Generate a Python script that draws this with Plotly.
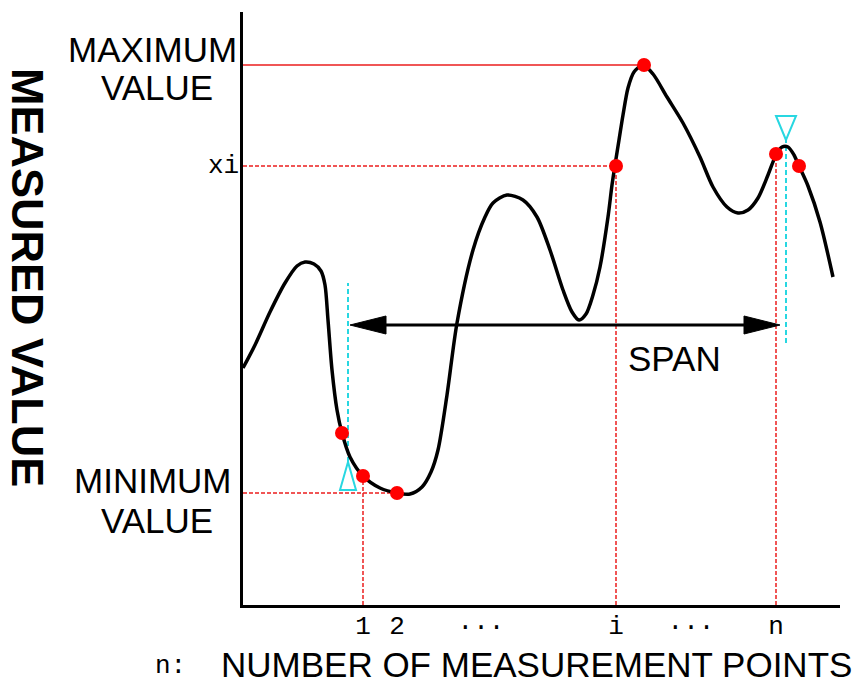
import plotly.graph_objects as go

# ---- data ----
curve_x = [0, 12, 27, 42, 54, 62, 71, 78, 82, 85, 89, 94, 99, 107, 120, 137, 154, 167, 179, 188,
           195, 204, 214, 230, 242, 250, 264, 280, 294, 307, 320, 329, 336, 343, 350, 357, 365,
           369, 372, 376, 380, 385, 391, 400, 410, 424, 440, 457, 470, 484, 495, 505, 515, 525,
           533, 539, 545, 551, 556, 565, 577, 590]
curve_y = [237, 260, 293, 322, 339, 343, 341, 334, 320, 285, 235, 195, 172, 148, 129, 117, 112, 111,
           118, 133, 155, 210, 282, 355, 388, 402, 410, 405, 388, 355, 315, 293, 285, 291, 310, 338,
           388, 420, 440, 465, 490, 517, 533, 540, 531, 508, 482, 448, 418, 398, 392, 395, 407, 430,
           450, 458, 458, 450, 439, 419, 383, 328]

point_x = [99, 120, 154, 373, 401, 533, 556]
point_y = [172, 129, 112, 439, 540, 451, 439]

max_value = 540
xi_value = 439
min_value = 112
x_max = 401
x_1 = 120
x_2 = 154
x_i = 373
x_n = 533
y_at_1 = 129
y_at_n = 451

span_start = 107
span_end = 537
span_level = 280
cyan_left = [105, 143, 322]    # x, bottom, top
cyan_right = [543, 262, 465]   # x, bottom, top

tick_vals = [120, 154, 238, 373, 448, 533]
tick_text = ["1", "2", "···", "i", "···", "n"]

X_RANGE = [0, 597]
Y_RANGE = [0, 593]

RED = "rgb(235,30,30)"
CYAN = "rgb(40,215,225)"
SANS = "Liberation Sans, Arial, sans-serif"
MONO = "Liberation Mono, Courier New, monospace"

fig = go.Figure()

fig.add_trace(go.Scatter(x=curve_x, y=curve_y, mode="lines",
                         line=dict(color="black", width=3.5, shape="spline", smoothing=0.8),
                         hoverinfo="skip"))

shapes = []
def seg(x0, y0, x1, y1, color, width, dash="solid"):
    shapes.append(dict(type="line", xref="x", yref="y", x0=x0, y0=y0, x1=x1, y1=y1,
                       line=dict(color=color, width=width, dash=dash), layer="below"))

seg(0, max_value, x_max, max_value, RED, 1.3)
seg(0, xi_value, x_i, xi_value, RED, 1.5, "4px,2px")
seg(x_i, 0, x_i, xi_value, RED, 1.5, "4px,2px")
seg(0, min_value, x_2, min_value, RED, 1.5, "4px,2px")
seg(x_1, 0, x_1, y_at_1, RED, 1.5, "4px,2px")
seg(x_n, 0, x_n, y_at_n, RED, 1.5, "4px,2px")
seg(cyan_left[0], cyan_left[1], cyan_left[0], cyan_left[2], CYAN, 2, "5px,3px")
seg(cyan_right[0], cyan_right[1], cyan_right[0], cyan_right[2], CYAN, 2, "5px,3px")

# span arrow
head_len, head_half = 36, 9
shapes.append(dict(type="line", xref="x", yref="y", x0=span_start + head_len - 2, y0=span_level,
                   x1=span_end - head_len + 2, y1=span_level, line=dict(color="black", width=3)))
for tip, d in ((span_start, 1), (span_end, -1)):
    shapes.append(dict(type="path", xref="x", yref="y",
                       path=f"M{tip},{span_level} L{tip + d*head_len},{span_level + head_half} "
                            f"L{tip + d*head_len},{span_level - head_half} Z",
                       fillcolor="black", line=dict(color="black", width=1)))

# cyan triangles
tl_h, tl_w = 28, 8
shapes.append(dict(type="path", xref="x", yref="y",
                   path=f"M{cyan_left[0]},{cyan_left[1]} L{cyan_left[0]-tl_w},{cyan_left[1]-tl_h} "
                        f"L{cyan_left[0]+tl_w},{cyan_left[1]-tl_h} Z",
                   line=dict(color=CYAN, width=2)))
tr_h, tr_w = 24, 10
shapes.append(dict(type="path", xref="x", yref="y",
                   path=f"M{cyan_right[0]},{cyan_right[2]} L{cyan_right[0]-tr_w},{cyan_right[2]+tr_h} "
                        f"L{cyan_right[0]+tr_w},{cyan_right[2]+tr_h} Z",
                   line=dict(color=CYAN, width=2)))

fig.add_trace(go.Scatter(x=point_x, y=point_y, mode="markers",
                         marker=dict(color="red", size=14, line=dict(width=0)),
                         hoverinfo="skip"))

def label(x, y, text, size, font=SANS, xanchor="center", **kw):
    # positions given in axis units, converted to paper fractions so they may sit outside the axes
    return dict(x=x / X_RANGE[1], y=y / Y_RANGE[1], xref="paper", yref="paper", text=text,
                xanchor=xanchor, yanchor="middle",
                showarrow=False, font=dict(family=font, size=size, color="black"), **kw)

annotations = [
    label(-91, 555, "MAXIMUM", 35),
    label(-86, 517, "VALUE", 35),
    label(-2, xi_value, "xi", 26, MONO, xanchor="right"),
    label(-91, 125, "MINIMUM", 35),
    label(-86, 85, "VALUE", 35),
    label(-215, 328, "<b>MEASURED VALUE</b>", 45, textangle=90),
    label(431, 247, "SPAN", 35),
    label(-73, -61, "n:", 26, MONO),
    label(293, -59, "NUMBER OF MEASUREMENT POINTS", 35, height=36),
]

fig.update_layout(
    width=862, height=682,
    margin=dict(l=243, r=22, t=12, b=77),
    paper_bgcolor="white", plot_bgcolor="white",
    showlegend=False, hovermode=False,
    shapes=shapes, annotations=annotations,
    xaxis=dict(range=X_RANGE, showgrid=False, zeroline=False, showline=True,
               linecolor="black", linewidth=3, ticks="", tickmode="array",
               tickvals=tick_vals, ticktext=tick_text, ticklabelstandoff=-5,
               tickfont=dict(family=MONO, size=26, color="black")),
    yaxis=dict(range=Y_RANGE, showgrid=False, zeroline=False, showline=True,
               linecolor="black", linewidth=3, showticklabels=False, ticks=""),
)

fig.write_html("out.html", config={"displayModeBar": False},
               post_script="document.body.style.margin='0px';")
